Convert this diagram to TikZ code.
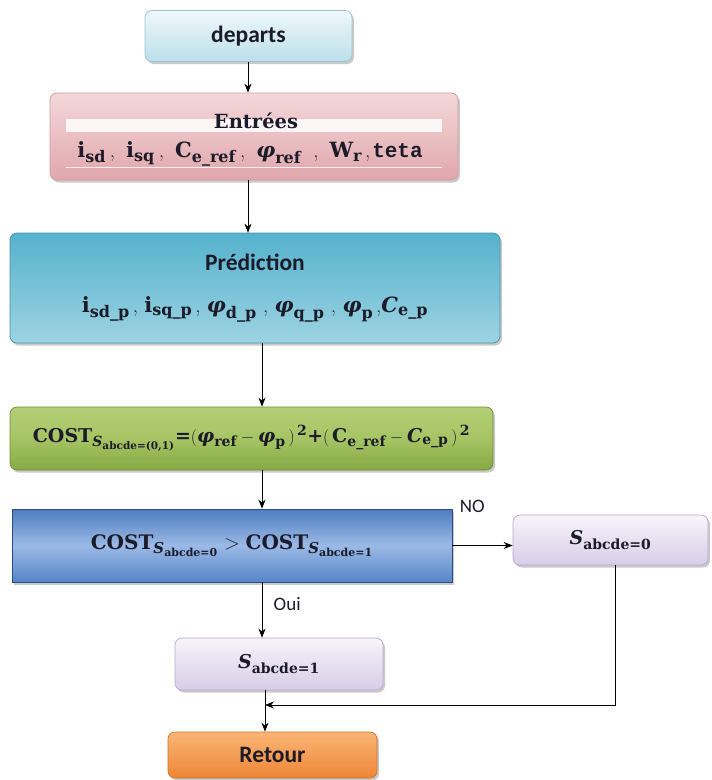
\documentclass[tikz,border=0pt]{standalone}
\usepackage{amsmath}
\usepackage{fontspec}
\newfontfamily\labelfont{Carlito}
\newfontfamily\codefont{Liberation Mono}
\newfontfamily\symfont{DejaVu Serif}
\usetikzlibrary{shadows,arrows.meta,calc}

% bold serif letters inside formulas
\newcommand{\B}[1]{\text{\symfont\bfseries #1}}
\newcommand{\BI}[1]{\text{\symfont\bfseries\itshape #1}}
\newcommand{\phib}{\BI{φ}}
\newcommand{\sep}{\hspace{4pt},\hspace{11pt}}
\DeclareMathSizes{21}{21}{16}{12}
\DeclareMathSizes{20}{20}{15}{11}
\DeclareMathSizes{19}{19}{14}{10.5}

\definecolor{txt}{HTML}{1B1B2A}
\definecolor{startTop}{HTML}{EEF8FB}\definecolor{startBot}{HTML}{BCDFEA}\definecolor{startLine}{HTML}{98C4D3}
\definecolor{inTop}{HTML}{F4D8DA}\definecolor{inBot}{HTML}{E0A7AB}\definecolor{inLine}{HTML}{D49A9F}
\definecolor{predTop}{HTML}{55B2CD}\definecolor{predBot}{HTML}{9DD3E2}\definecolor{predLine}{HTML}{4A8FA6}
\definecolor{costTop}{HTML}{B4CF78}\definecolor{costMid}{HTML}{A6C463}\definecolor{costBot}{HTML}{86A945}\definecolor{costLine}{HTML}{6F8F35}
\definecolor{decTop}{HTML}{4D7CC0}\definecolor{decMid}{HTML}{9BBAE6}\definecolor{decBot}{HTML}{5685C8}\definecolor{decLine}{HTML}{2C4C80}
\definecolor{selTop}{HTML}{F7F4FA}\definecolor{selBot}{HTML}{D8CDE8}\definecolor{selLine}{HTML}{B8A9CF}
\definecolor{endTop}{HTML}{FAB575}\definecolor{endBot}{HTML}{EE8636}\definecolor{endLine}{HTML}{D07428}

\begin{document}
\begin{tikzpicture}[x=1pt,y=-1pt,
  flowbox/.style={rounded corners=7pt, draw, line width=0.7pt, inner sep=0pt,
    align=center, text=txt,
    drop shadow={shadow xshift=2pt, shadow yshift=-2.5pt, opacity=0.35, fill=black!60}},
  sanslabel/.style={font=\labelfont\bfseries\fontsize{23.5}{27}\selectfont},
  mathlabel/.style={font=\fontsize{19}{23}\selectfont},
  arr/.style={line width=0.8pt, -{Stealth[length=9pt,width=7pt]}},
  branch/.style={font=\labelfont\fontsize{19}{22}\selectfont, text=txt}]

  % page frame
  \useasboundingbox (0,0) rectangle (712,780);
  \fill[white] (0,0) rectangle (712,780);

  % start box
  \node[flowbox, sanslabel, draw=startLine, top color=startTop, bottom color=startBot,
        minimum width=207pt, minimum height=51pt] (start) at (248.5,36) {departs};

  % inputs box with its light bands
  \node[flowbox, draw=inLine, top color=inTop, bottom color=inBot,
        minimum width=408pt, minimum height=87pt] (inputs) at (254,136.5) {};
  \fill[white, opacity=0.85] (66,119) rectangle (442,132);
  \draw[white, line width=1pt, opacity=0.8] (66,167) -- (442,167);
  \node[text=txt, align=center, font=\fontsize{21}{25}\selectfont] (inputstext) at (250,140) {%
    \hspace{12pt}{\fontsize{19.5}{23}\selectfont\symfont\bfseries Entrées}\\[4pt]
    $\B{i}_{\B{sd}}$\sep$\B{i}_{\B{sq}}$\sep$\B{C}_{\B{e\_ref}}$\sep
    $\phib_{\B{ref}}$\hspace{8pt}\sep$\B{W}_{\B{r}}$\hspace{3pt},\hspace{2pt}{\codefont\bfseries teta}};

  % prediction box
  \node[flowbox, draw=predLine, top color=predTop, bottom color=predBot,
        minimum width=490pt, minimum height=110pt, align=center] (pred) at (255,288) {%
    {\labelfont\bfseries\fontsize{23.5}{27}\selectfont Prédiction}\\[25pt]
    {\fontsize{21}{25}\selectfont
    $\B{i}_{\B{sd\_p}}$\hspace{3pt},\ $\B{i}_{\B{sq\_p}}$\hspace{3pt},\ $\phib_{\B{d\_p}}$\ ,\
    $\phib_{\B{q\_p}}$\ ,\ $\phib_{\B{p}}$\hspace{3pt},$\BI{C}_{\B{e\_p}}$}};

  % cost function box
  \node[flowbox, mathlabel, draw=costLine, top color=costTop, bottom color=costBot, middle color=costMid,
        minimum width=483pt, minimum height=63pt] (cost) at (251.5,438.5) {%
    $\B{COST}_{\BI{S}_{\B{abcde=(0,1)}}}$\B{=}$(\phib_{\B{ref}}-\phib_{\B{p}}\,)^{\,\B{2}}$\B{+}$(\,\B{C}_{\B{e\_ref}}-\BI{C}_{\B{e\_p}}\,)^{\,\B{2}}$};

  % comparison box
  \node[flowbox, font=\fontsize{20}{24}\selectfont, rounded corners=0pt, draw=decLine, top color=decTop, bottom color=decBot, middle color=decMid,
        minimum width=440pt, minimum height=73pt] (test) at (232,545.5) {%
    $\B{COST}_{\BI{S}_{\B{abcde=0}}} > \B{COST}_{\BI{S}_{\B{abcde=1}}}$};

  % switch states
  \node[flowbox, mathlabel, draw=selLine, top color=selTop, bottom color=selBot,
        minimum width=195pt, minimum height=50pt] (szero) at (610.5,540) {%
    $\BI{S}_{\B{abcde=0}}$};
  \node[flowbox, mathlabel, draw=selLine, top color=selTop, bottom color=selBot,
        minimum width=208pt, minimum height=52pt] (sone) at (279,664) {%
    $\BI{S}_{\B{abcde=1}}$};

  % return box
  \node[flowbox, sanslabel, draw=endLine, top color=endTop, bottom color=endBot,
        minimum width=209pt, minimum height=46pt] (ret) at (272.5,755) {Retour};

  % spine positions of the connectors
  \coordinate (spineA) at (248,0);
  \coordinate (spineB) at (262,0);
  \coordinate (spineC) at (265,0);
  \coordinate (spineD) at (615,0);
  \coordinate (merge) at (265,705);

  % connectors
  \draw[arr] (start.south -| spineA) -- (inputs.north -| spineA);
  \draw[arr] (inputs.south -| spineA) -- (pred.north -| spineA);
  \draw[arr] (pred.south -| spineB) -- (cost.north -| spineB);
  \draw[arr] (cost.south -| spineB) -- (test.north -| spineB);
  \draw[arr] (test.east) -- node[branch, pos=0.33, above=29pt] (nolabel) {NO} (szero.west |- test.east);
  \draw[arr] (test.south -| spineB) -- node[branch, pos=0.4, right=8pt] (ouilabel) {Oui} (sone.north -| spineB);
  \draw[arr] (sone.south -| spineC) -- (ret.north -| spineC);
  \draw[arr] (szero.south -| spineD) |- (merge);
\end{tikzpicture}
\end{document}
